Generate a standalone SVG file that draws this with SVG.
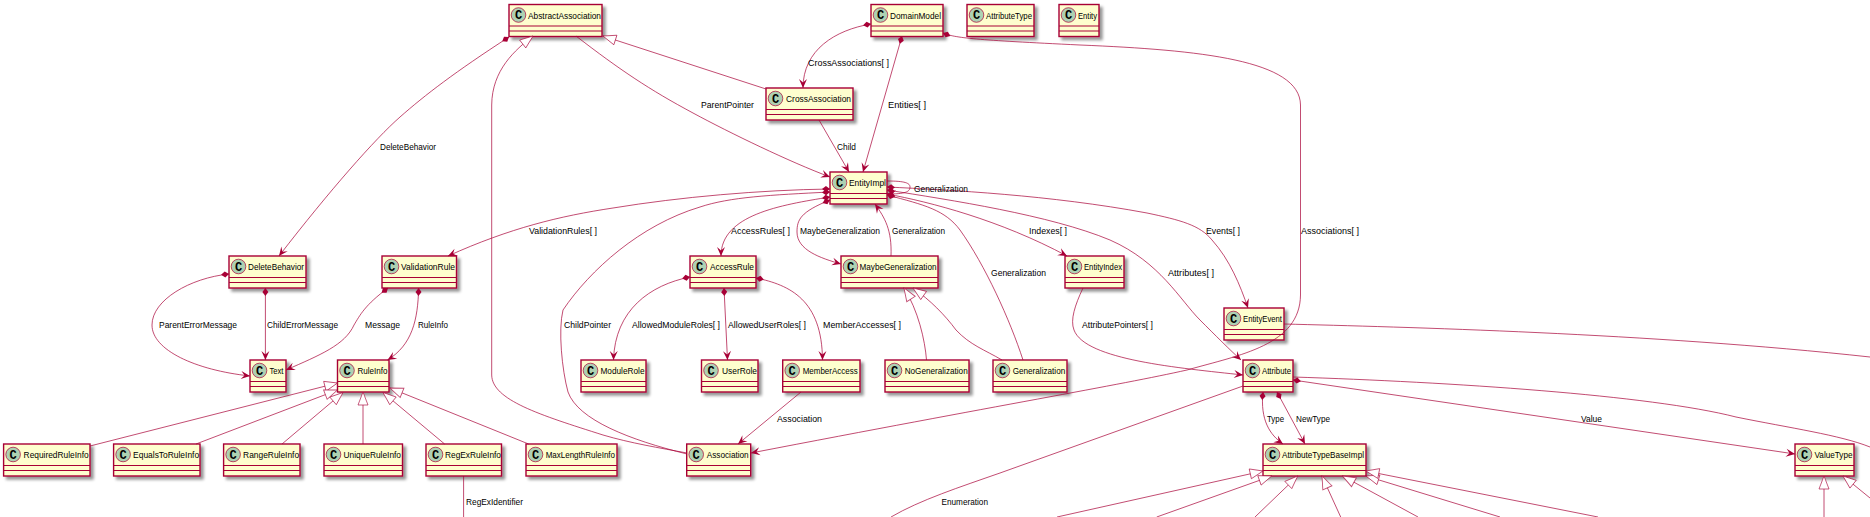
<svg xmlns="http://www.w3.org/2000/svg" width="1870" height="517" viewBox="0 0 1870 517">
<style>
text{font-family:"Liberation Sans",Arial,sans-serif;font-size:9.5px;fill:#000}
.box{fill:#FEFECE;stroke:#A80036;stroke-width:1.4;filter:url(#sh)}
.sep{fill:none;stroke:#A80036;stroke-width:1.1}
.ci{fill:#ADD1B2;stroke:#A80036;stroke-width:.7}
text.c{font-family:"Liberation Mono",monospace;font-weight:bold;font-size:12px;text-anchor:middle}
#connectors path{fill:none;stroke:#A80036;stroke-width:1;stroke-opacity:.7}
.a{marker-end:url(#arrow)}
.d{marker-start:url(#dia)}
.t{marker-start:url(#tri)}
</style>
<defs>
<filter id="sh" x="-20%" y="-30%" width="140%" height="170%"><feGaussianBlur in="SourceAlpha" stdDeviation="1.6"/><feOffset dx="3" dy="3"/><feComponentTransfer><feFuncA type="linear" slope=".42"/></feComponentTransfer><feMerge><feMergeNode/><feMergeNode in="SourceGraphic"/></feMerge></filter>
<marker id="arrow" markerUnits="userSpaceOnUse" markerWidth="12" markerHeight="10" refX="10" refY="5" orient="auto"><path d="M10,5L1,1L4.5,5L1,9Z" fill="#A80036"/></marker>
<marker id="dia" markerUnits="userSpaceOnUse" markerWidth="10" markerHeight="8" refX="0" refY="4" orient="auto"><path d="M0,4L4,1L8,4L4,7Z" fill="#A80036"/></marker>
<marker id="tri" markerUnits="userSpaceOnUse" markerWidth="16" markerHeight="12" refX="1" refY="6" orient="auto"><path d="M1,6L14,1V11Z" fill="#fff" stroke="#A80036" stroke-width=".9" stroke-opacity=".7"/></marker>
</defs>
<g id="AbstractAssociation" transform="translate(509,4.5)"><rect class="box" width="93" height="32"/><path class="sep" d="M0,21.5H93M0,26.5H93"/><circle class="ci" cx="9.5" cy="10.5" r="7.3"/><text class="c" x="9.5" y="14.5">C</text><text x="19" y="14" textLength="73" lengthAdjust="spacingAndGlyphs">AbstractAssociation</text></g>
<g id="DomainModel" transform="translate(871,4.5)"><rect class="box" width="72" height="32"/><path class="sep" d="M0,21.5H72M0,26.5H72"/><circle class="ci" cx="9.5" cy="10.5" r="7.3"/><text class="c" x="9.5" y="14.5">C</text><text x="19" y="14" textLength="51" lengthAdjust="spacingAndGlyphs">DomainModel</text></g>
<g id="AttributeType" transform="translate(967,4.5)"><rect class="box" width="67" height="32"/><path class="sep" d="M0,21.5H67M0,26.5H67"/><circle class="ci" cx="9.5" cy="10.5" r="7.3"/><text class="c" x="9.5" y="14.5">C</text><text x="19" y="14" textLength="46" lengthAdjust="spacingAndGlyphs">AttributeType</text></g>
<g id="Entity" transform="translate(1059,4.5)"><rect class="box" width="40" height="32"/><path class="sep" d="M0,21.5H40M0,26.5H40"/><circle class="ci" cx="9.5" cy="10.5" r="7.3"/><text class="c" x="9.5" y="14.5">C</text><text x="19" y="14" textLength="19" lengthAdjust="spacingAndGlyphs">Entity</text></g>
<g id="CrossAssociation" transform="translate(766,88)"><rect class="box" width="87" height="32"/><path class="sep" d="M0,21.5H87M0,26.5H87"/><circle class="ci" cx="9.5" cy="10.5" r="7.3"/><text class="c" x="9.5" y="14.5">C</text><text x="20" y="14" textLength="65" lengthAdjust="spacingAndGlyphs">CrossAssociation</text></g>
<g id="EntityImpl" transform="translate(830,172)"><rect class="box" width="57" height="32"/><path class="sep" d="M0,21.5H57M0,26.5H57"/><circle class="ci" cx="9.5" cy="10.5" r="7.3"/><text class="c" x="9.5" y="14.5">C</text><text x="19" y="14" textLength="37" lengthAdjust="spacingAndGlyphs">EntityImpl</text></g>
<g id="DeleteBehavior" transform="translate(229,256)"><rect class="box" width="77" height="32"/><path class="sep" d="M0,21.5H77M0,26.5H77"/><circle class="ci" cx="9.5" cy="10.5" r="7.3"/><text class="c" x="9.5" y="14.5">C</text><text x="19" y="14" textLength="56" lengthAdjust="spacingAndGlyphs">DeleteBehavior</text></g>
<g id="ValidationRule" transform="translate(382,256)"><rect class="box" width="74.500" height="32"/><path class="sep" d="M0,21.5H74.500M0,26.500H74.500"/><circle class="ci" cx="9.5" cy="10.5" r="7.3"/><text class="c" x="9.5" y="14.5">C</text><text x="19" y="14" textLength="54" lengthAdjust="spacingAndGlyphs">ValidationRule</text></g>
<g id="AccessRule" transform="translate(690,256)"><rect class="box" width="66" height="32"/><path class="sep" d="M0,21.5H66M0,26.5H66"/><circle class="ci" cx="9.5" cy="10.5" r="7.3"/><text class="c" x="9.5" y="14.5">C</text><text x="20" y="14" textLength="44" lengthAdjust="spacingAndGlyphs">AccessRule</text></g>
<g id="MaybeGeneralization" transform="translate(841,256)"><rect class="box" width="97" height="32"/><path class="sep" d="M0,21.5H97M0,26.5H97"/><circle class="ci" cx="9.5" cy="10.5" r="7.3"/><text class="c" x="9.5" y="14.5">C</text><text x="18.500" y="14" textLength="77" lengthAdjust="spacingAndGlyphs">MaybeGeneralization</text></g>
<g id="EntityIndex" transform="translate(1065,256)"><rect class="box" width="59" height="32"/><path class="sep" d="M0,21.5H59M0,26.5H59"/><circle class="ci" cx="9.5" cy="10.5" r="7.3"/><text class="c" x="9.5" y="14.5">C</text><text x="19" y="14" textLength="38" lengthAdjust="spacingAndGlyphs">EntityIndex</text></g>
<g id="EntityEvent" transform="translate(1224,308)"><rect class="box" width="60" height="32"/><path class="sep" d="M0,21.5H60M0,26.5H60"/><circle class="ci" cx="9.5" cy="10.5" r="7.3"/><text class="c" x="9.5" y="14.5">C</text><text x="19" y="14" textLength="39" lengthAdjust="spacingAndGlyphs">EntityEvent</text></g>
<g id="Text" transform="translate(250,360)"><rect class="box" width="36" height="32"/><path class="sep" d="M0,21.5H36M0,26.5H36"/><circle class="ci" cx="9.5" cy="10.5" r="7.3"/><text class="c" x="9.5" y="14.5">C</text><text x="19.500" y="14" textLength="14" lengthAdjust="spacingAndGlyphs">Text</text></g>
<g id="RuleInfo" transform="translate(337.500,360)"><rect class="box" width="51.500" height="32"/><path class="sep" d="M0,21.5H51.500M0,26.500H51.500"/><circle class="ci" cx="9.5" cy="10.5" r="7.3"/><text class="c" x="9.5" y="14.5">C</text><text x="20" y="14" textLength="30" lengthAdjust="spacingAndGlyphs">RuleInfo</text></g>
<g id="ModuleRole" transform="translate(581,360)"><rect class="box" width="65" height="32"/><path class="sep" d="M0,21.5H65M0,26.5H65"/><circle class="ci" cx="9.5" cy="10.5" r="7.3"/><text class="c" x="9.5" y="14.5">C</text><text x="19.500" y="14" textLength="44" lengthAdjust="spacingAndGlyphs">ModuleRole</text></g>
<g id="UserRole" transform="translate(701.500,360)"><rect class="box" width="56.500" height="32"/><path class="sep" d="M0,21.5H56.500M0,26.500H56.500"/><circle class="ci" cx="9.5" cy="10.5" r="7.3"/><text class="c" x="9.5" y="14.5">C</text><text x="20.500" y="14" textLength="35" lengthAdjust="spacingAndGlyphs">UserRole</text></g>
<g id="MemberAccess" transform="translate(782.700,360)"><rect class="box" width="77.300" height="32"/><path class="sep" d="M0,21.5H77.300M0,26.500H77.300"/><circle class="ci" cx="9.5" cy="10.5" r="7.3"/><text class="c" x="9.5" y="14.5">C</text><text x="20" y="14" textLength="55" lengthAdjust="spacingAndGlyphs">MemberAccess</text></g>
<g id="NoGeneralization" transform="translate(885,360)"><rect class="box" width="84" height="32"/><path class="sep" d="M0,21.5H84M0,26.5H84"/><circle class="ci" cx="9.5" cy="10.5" r="7.3"/><text class="c" x="9.5" y="14.5">C</text><text x="19.700" y="14" textLength="63" lengthAdjust="spacingAndGlyphs">NoGeneralization</text></g>
<g id="Generalization" transform="translate(993,360)"><rect class="box" width="74" height="32"/><path class="sep" d="M0,21.5H74M0,26.5H74"/><circle class="ci" cx="9.5" cy="10.5" r="7.3"/><text class="c" x="9.5" y="14.5">C</text><text x="19.700" y="14" textLength="52.500" lengthAdjust="spacingAndGlyphs">Generalization</text></g>
<g id="Attribute" transform="translate(1243,360)"><rect class="box" width="50" height="32"/><path class="sep" d="M0,21.5H50M0,26.5H50"/><circle class="ci" cx="9.5" cy="10.5" r="7.3"/><text class="c" x="9.5" y="14.5">C</text><text x="19" y="14" textLength="29" lengthAdjust="spacingAndGlyphs">Attribute</text></g>
<g id="RequiredRuleInfo" transform="translate(3.600,444)"><rect class="box" width="86.400" height="32"/><path class="sep" d="M0,21.5H86.400M0,26.500H86.400"/><circle class="ci" cx="9.5" cy="10.5" r="7.3"/><text class="c" x="9.5" y="14.5">C</text><text x="20" y="14" textLength="65" lengthAdjust="spacingAndGlyphs">RequiredRuleInfo</text></g>
<g id="EqualsToRuleInfo" transform="translate(113.600,444)"><rect class="box" width="86.400" height="32"/><path class="sep" d="M0,21.5H86.400M0,26.500H86.400"/><circle class="ci" cx="9.5" cy="10.5" r="7.3"/><text class="c" x="9.5" y="14.5">C</text><text x="19.500" y="14" textLength="66" lengthAdjust="spacingAndGlyphs">EqualsToRuleInfo</text></g>
<g id="RangeRuleInfo" transform="translate(223.600,444)"><rect class="box" width="76.400" height="32"/><path class="sep" d="M0,21.5H76.400M0,26.500H76.400"/><circle class="ci" cx="9.5" cy="10.5" r="7.3"/><text class="c" x="9.5" y="14.5">C</text><text x="19.500" y="14" textLength="56" lengthAdjust="spacingAndGlyphs">RangeRuleInfo</text></g>
<g id="UniqueRuleInfo" transform="translate(324,444)"><rect class="box" width="78.500" height="32"/><path class="sep" d="M0,21.5H78.500M0,26.500H78.500"/><circle class="ci" cx="9.5" cy="10.5" r="7.3"/><text class="c" x="9.5" y="14.5">C</text><text x="19.500" y="14" textLength="57.500" lengthAdjust="spacingAndGlyphs">UniqueRuleInfo</text></g>
<g id="RegExRuleInfo" transform="translate(426,444)"><rect class="box" width="75.500" height="32"/><path class="sep" d="M0,21.5H75.500M0,26.500H75.500"/><circle class="ci" cx="9.5" cy="10.5" r="7.3"/><text class="c" x="9.5" y="14.5">C</text><text x="19" y="14" textLength="56" lengthAdjust="spacingAndGlyphs">RegExRuleInfo</text></g>
<g id="MaxLengthRuleInfo" transform="translate(526,444)"><rect class="box" width="91" height="32"/><path class="sep" d="M0,21.5H91M0,26.5H91"/><circle class="ci" cx="9.5" cy="10.5" r="7.3"/><text class="c" x="9.5" y="14.5">C</text><text x="19.700" y="14" textLength="69.300" lengthAdjust="spacingAndGlyphs">MaxLengthRuleInfo</text></g>
<g id="Association" transform="translate(686.700,444)"><rect class="box" width="64" height="32"/><path class="sep" d="M0,21.5H64M0,26.5H64"/><circle class="ci" cx="9.5" cy="10.5" r="7.3"/><text class="c" x="9.5" y="14.5">C</text><text x="20" y="14" textLength="42" lengthAdjust="spacingAndGlyphs">Association</text></g>
<g id="AttributeTypeBaseImpl" transform="translate(1263,444)"><rect class="box" width="103" height="32"/><path class="sep" d="M0,21.5H103M0,26.5H103"/><circle class="ci" cx="9.5" cy="10.5" r="7.3"/><text class="c" x="9.5" y="14.5">C</text><text x="19" y="14" textLength="82" lengthAdjust="spacingAndGlyphs">AttributeTypeBaseImpl</text></g>
<g id="ValueType" transform="translate(1795,444)"><rect class="box" width="59" height="32"/><path class="sep" d="M0,21.5H59M0,26.5H59"/><circle class="ci" cx="9.5" cy="10.5" r="7.3"/><text class="c" x="9.5" y="14.5">C</text><text x="19.500" y="14" textLength="38" lengthAdjust="spacingAndGlyphs">ValueType</text></g>
<g id="connectors">
<path class="d a" d="M509,37C455,72 425,95 400,117S330,190 279,256"/>
<path class="d a" d="M871,24C835,30 803,50 803,88"/>
<path class="d a" d="M902,36L863,172"/>
<path class="d a" d="M943,33C955,38 975,40 1080,45C1200,50 1300,60 1300.500,105L1300.500,295C1300,345 1240,355 1187,370C1120,385 1000,405 751,453"/>
<path class="a" d="M576,36C620,70 650,90 693,113C730,133 790,162 830,177"/>
<path class="t" d="M603,36L766,89"/>
<path class="t" d="M533,36C515,50 492,70 491.700,105L491.700,375C492,400 540,415 603,435C630,443 660,448 687,453"/>
<path class="a" d="M819,120L849,172"/>
<path class="d" d="M830,192C770,195 730,197 700,207C640,225 590,270 563,310C558,330 562,370 568,392C578,420 630,440 687,454"/>
<path class="d a" d="M830,189C760,190 680,197 613,208C560,216 510,228 448,256"/>
<path class="d a" d="M830,197C780,205 721,215 721,256"/>
<path class="d a" d="M830,200C800,212 797,220 797,232C797,250 820,258 841,264"/>
<path class="a" d="M891,256C892,230 885,218 875,204"/>
<path class="a" d="M887,181C905,181 910,183 910,187C910,192 905,194 887,194"/>
<path class="d a" d="M887,194C930,202 1000,220 1067,256"/>
<path class="d" d="M887,195C925,205 945,210 960,230C985,265 1010,320 1023,360"/>
<path class="d a" d="M887,190C950,200 1050,215 1110,240C1160,262 1180,300 1200,320C1215,335 1230,350 1241,360"/>
<path class="d a" d="M887,187C950,190 1050,195 1147,213C1180,220 1200,225 1212,240C1230,260 1240,285 1248,308"/>
<path class="a" d="M1083,288C1075,305 1070,320 1074,330C1085,360 1180,368 1243,375"/>
<path d="M1284,324C1400,327 1650,333 1870,357"/>
<path d="M1243,386L1000,473C960,487 920,500 891,517"/>
<path class="d a" d="M1263,392C1260,420 1270,435 1283,444"/>
<path class="d a" d="M1277,392L1305,444"/>
<path class="d a" d="M1293,380L1795,454"/>
<path d="M1293,377C1450,382 1650,395 1736,417C1790,428 1840,435 1870,447"/>
<path class="d a" d="M690,277C650,285 615,310 613.500,360"/>
<path class="d a" d="M724,288L727.500,360"/>
<path class="d a" d="M756,278C790,285 822,300 822.500,360"/>
<path class="a" d="M801,392L738,444"/>
<path class="t" d="M904,288C918,310 925,340 926.500,360"/>
<path class="t" d="M913,288C930,300 945,315 956,330C970,345 985,350 1002,360"/>
<path class="d a" d="M229,274C190,278 152,300 152,325C152,350 195,370 250,376"/>
<path class="d a" d="M265.400,288L265.400,360"/>
<path class="d a" d="M388,288C365,305 360,315 354,325C345,345 320,355 286,370"/>
<path class="d a" d="M418.600,288C418,320 412,345 387.500,360"/>
<path class="t" d="M337.500,383L90,446"/>
<path class="t" d="M337.500,390L196,444"/>
<path class="t" d="M343,392.500L282,444"/>
<path class="t" d="M363,392L363,444"/>
<path class="t" d="M383,392.500L444.600,444"/>
<path class="t" d="M390,388L528.600,444"/>
<path d="M463.600,476L463.600,517"/>
<path class="t" d="M1263,471L1057,517"/>
<path class="t" d="M1271.700,476L1156.700,517"/>
<path class="t" d="M1297.700,476L1255,517"/>
<path class="t" d="M1322,476L1340.700,517"/>
<path class="t" d="M1342.500,476L1418,517"/>
<path class="t" d="M1366,476L1500,517"/>
<path class="t" d="M1366,471L1598,517"/>
<path class="t" d="M1824,476L1824,517"/>
<path class="t" d="M1843,476L1870,498"/>
<g id="labels">
<text x="380" y="150" textLength="56" lengthAdjust="spacingAndGlyphs">DeleteBehavior</text>
<text x="701" y="108" textLength="53" lengthAdjust="spacingAndGlyphs">ParentPointer</text>
<text x="808" y="66" textLength="81" lengthAdjust="spacingAndGlyphs">CrossAssociations[ ]</text>
<text x="888" y="108" textLength="38" lengthAdjust="spacingAndGlyphs">Entities[ ]</text>
<text x="837" y="150" textLength="19" lengthAdjust="spacingAndGlyphs">Child</text>
<text x="529" y="234" textLength="68" lengthAdjust="spacingAndGlyphs">ValidationRules[ ]</text>
<text x="731" y="234" textLength="59" lengthAdjust="spacingAndGlyphs">AccessRules[ ]</text>
<text x="800" y="234" textLength="80" lengthAdjust="spacingAndGlyphs">MaybeGeneralization</text>
<text x="892" y="234" textLength="53" lengthAdjust="spacingAndGlyphs">Generalization</text>
<text x="914" y="192" textLength="54" lengthAdjust="spacingAndGlyphs">Generalization</text>
<text x="991" y="276" textLength="55" lengthAdjust="spacingAndGlyphs">Generalization</text>
<text x="1029" y="234" textLength="38" lengthAdjust="spacingAndGlyphs">Indexes[ ]</text>
<text x="1206" y="234" textLength="34" lengthAdjust="spacingAndGlyphs">Events[ ]</text>
<text x="1301" y="234" textLength="58" lengthAdjust="spacingAndGlyphs">Associations[ ]</text>
<text x="1168" y="276" textLength="46" lengthAdjust="spacingAndGlyphs">Attributes[ ]</text>
<text x="1082" y="328" textLength="71" lengthAdjust="spacingAndGlyphs">AttributePointers[ ]</text>
<text x="159" y="328" textLength="78" lengthAdjust="spacingAndGlyphs">ParentErrorMessage</text>
<text x="267" y="328" textLength="71" lengthAdjust="spacingAndGlyphs">ChildErrorMessage</text>
<text x="365" y="328" textLength="35" lengthAdjust="spacingAndGlyphs">Message</text>
<text x="418" y="328" textLength="30" lengthAdjust="spacingAndGlyphs">RuleInfo</text>
<text x="564" y="328" textLength="47" lengthAdjust="spacingAndGlyphs">ChildPointer</text>
<text x="632" y="328" textLength="88" lengthAdjust="spacingAndGlyphs">AllowedModuleRoles[ ]</text>
<text x="728" y="328" textLength="78" lengthAdjust="spacingAndGlyphs">AllowedUserRoles[ ]</text>
<text x="823" y="328" textLength="78" lengthAdjust="spacingAndGlyphs">MemberAccesses[ ]</text>
<text x="777" y="422" textLength="45" lengthAdjust="spacingAndGlyphs">Association</text>
<text x="1267" y="422" textLength="17" lengthAdjust="spacingAndGlyphs">Type</text>
<text x="1296" y="422" textLength="34" lengthAdjust="spacingAndGlyphs">NewType</text>
<text x="1581" y="422" textLength="21" lengthAdjust="spacingAndGlyphs">Value</text>
<text x="941.500" y="505" textLength="46.500" lengthAdjust="spacingAndGlyphs">Enumeration</text>
<text x="466" y="505" textLength="57" lengthAdjust="spacingAndGlyphs">RegExIdentifier</text>
</g>
</g>
</svg>
